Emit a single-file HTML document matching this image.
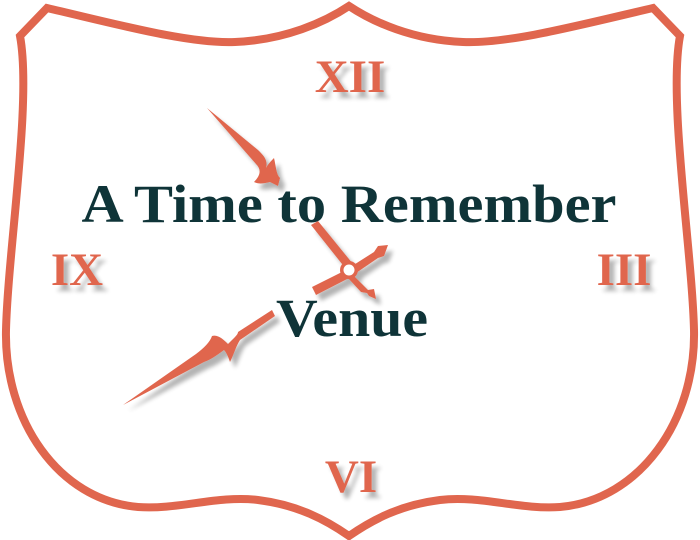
<!DOCTYPE html>
<html><head><style>
html,body{margin:0;padding:0;background:#fff;}
svg{display:block;}
</style></head><body>
<svg width="700" height="540" viewBox="0 0 700 540" xmlns="http://www.w3.org/2000/svg">
<defs>
<filter id="sh" x="-20%" y="-20%" width="150%" height="150%">
<feGaussianBlur in="SourceAlpha" stdDeviation="2"/>
<feOffset dx="5" dy="6"/>
<feComponentTransfer><feFuncA type="linear" slope="0.3"/></feComponentTransfer>
<feMerge><feMergeNode/><feMergeNode in="SourceGraphic"/></feMerge>
</filter>
</defs>
<path d="M47,8 C120,25 190,44 235,42 C285,40 325,22 349,6 C373,22 413,40 463,42 C508,44 580,25 653,8 L680,36 C668,100 692,250 694,330 C696,420 640,500 560,507 C520,510 480,495 440,500 C400,505 372,520 349,536 C326,520 298,505 258,500 C218,495 178,510 138,507 C58,500 4,420 6,330 C8,250 32,100 20,36 Z" fill="#fff" stroke="#e0664e" stroke-width="8" stroke-linejoin="miter"/>
<g font-family="'Liberation Serif',serif" font-weight="bold" fill="#e0664e" font-size="47" text-anchor="middle" filter="url(#sh)">
<text x="350" y="92">XII</text>
<text x="77" y="285">IX</text>
<text x="624" y="285">III</text>
<text x="351" y="492">VI</text>
</g>
<g fill="#e0664e" filter="url(#sh)">
<!-- minute hand -->
<path d="M207,108 L258,150 C264,156 268,160 266,168 C268,164 272,160 274,158 C276,166 276,174 280,178 L278,186 L270,182 C262,184 258,184 254,182 C260,176 262,170 256,164 Z"/>
<!-- hour hand -->
<path d="M123,405 L196,354 C204,348 210,342 212,336 C218,334 224,340 228,344 L232,340 C236,336 238,334 238,332 L272,310 L275,316 L240,340 C236,346 234,354 230,362 C228,356 226,352 224,350 C216,356 210,360 204,362 Z"/>
<!-- center cross -->
<path d="M311,225 L318,221 L353,264 L346,269 Z"/>
<path d="M312,287 L316,295 L351,277 L346,270 Z"/>
<path d="M352,266 L374,252 L378,246 L388,245 L384,256 L378,258 L356,273 Z"/>
<path d="M352,274 L364,286 L368,290 L374,289 L376,299 L369,296 L367,293 L361,292 L348,278 Z"/>
<circle cx="349" cy="270" r="9"/>
</g>
<circle cx="349" cy="270" r="5.5" fill="#fff"/>
<g font-family="'Liberation Serif',serif" font-weight="bold" fill="#0f3438" text-anchor="middle">
<text x="349" y="222" font-size="54" textLength="535" lengthAdjust="spacingAndGlyphs">A Time to Remember</text>
<text x="352" y="336" font-size="54" textLength="152" lengthAdjust="spacingAndGlyphs">Venue</text>
</g>
</svg>
</body></html>
